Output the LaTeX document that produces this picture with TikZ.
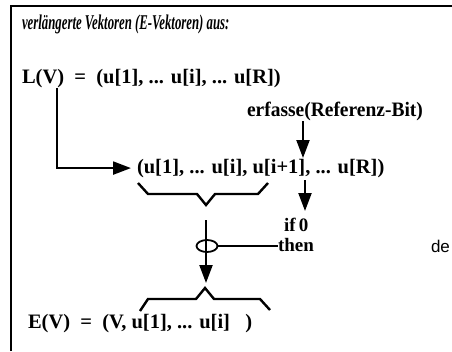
\documentclass[tikz,border=0pt]{standalone}
\usepackage{fontspec}
\setmainfont{Liberation Serif}
\newfontfamily\desans{Liberation Sans}
\usetikzlibrary{arrows.meta,shapes.geometric}
\tikzset{
  txt/.style={anchor=base west, inner sep=0pt, outer sep=0pt},
  main/.style={txt, font=\fontsize{20.5}{24}\selectfont\bfseries},
  small/.style={txt, font=\fontsize{19}{21}\selectfont\bfseries},
  thick line/.style={line width=2pt},
  arr/.style={line width=2.2pt, -{Triangle[length=18pt,width=13pt]}},
  brace/.style={line width=2.4pt, line join=miter}
}
\begin{document}
\begin{tikzpicture}[x=1pt,y=-1pt]
\useasboundingbox (0,0) rectangle (452,351);
% frame
\draw[line width=2.2pt] (11,351) -- (11,6) -- (452,6);
% texts
\node[txt, font=\fontsize{21}{23}\selectfont\itshape\bfseries] (title) at (22,29)
  {\scalebox{0.61}[1]{verlängerte Vektoren (E-Vektoren) aus:}};
\node[main] (lv) at (22,83) {L(V) \ = \ (u[1], ... u[i], ... u[R])};
\node[main] (erf) at (247,116) {\scalebox{0.95}[1]{erfasse(Referenz-Bit)}};
\node[main] (vec) at (137,173) {(u[1], ... u[i], u[i+1], ... u[R])};
\node[small] (if) at (284,231) {if\,0};
\node[small] (then) at (278,251) {then};
\node[txt, font=\desans\fontsize{17}{19}\selectfont] (de) at (431,252) {de};
\node[main] (ev) at (28,328) {E(V) \ = \ (V, u[1], ... u[i] \ \ )};
% connectors
\coordinate (l1) at (57,88);
\draw[arr, shorten >=6pt] (l1) |- (vec.west);
\coordinate (e1) at (303,121);
\coordinate (e2) at (303,158);
\draw[arr] (e1) -- (e2);
\coordinate (v1) at (305,180);
\coordinate (v2) at (305,211);
\draw[arr] (v1) -- (v2);
% underbrace
\draw[brace] (138,183) -- (148,194) -- (197,194) -- (206,205) -- (215,194) -- (258,194) -- (268,183);
% ring and vertical
\node[draw, line width=1.8pt, ellipse, minimum width=21pt, minimum height=12pt, inner sep=0pt] (ring) at (207,246) {};
\coordinate (t1) at (206,220);
\coordinate (t2) at (206,283);
\draw[arr] (t1) -- (t2);
\draw[thick line] (ring.east) -- (then.west |- ring.east);
% overbrace
\draw[brace] (140,311) -- (148,299) -- (196,299) -- (205,288) -- (214,299) -- (260,299) -- (270,310);
\end{tikzpicture}
\end{document}
